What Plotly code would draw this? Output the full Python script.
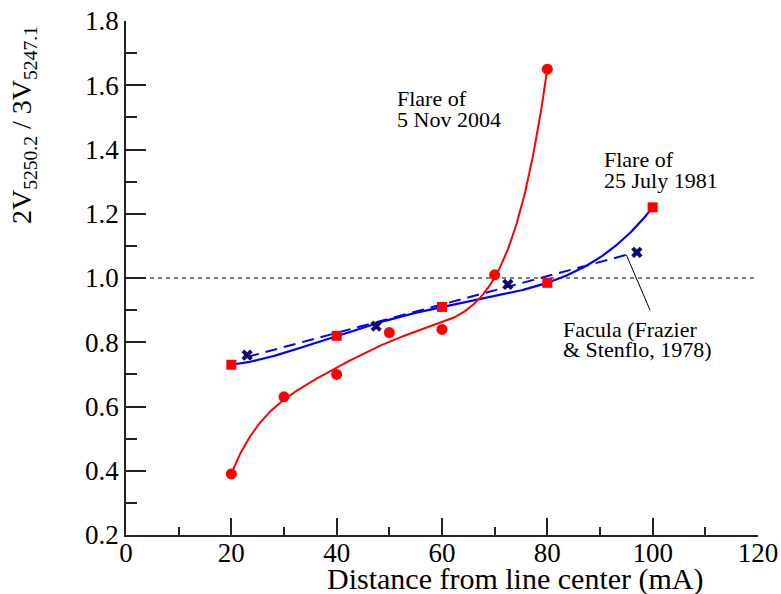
import numpy as np
import plotly.graph_objects as go

# Stokes-V amplitude ratio vs. distance from line center
dist_2004 = [20, 30, 40, 50, 60, 70, 80]
ratio_2004 = [0.39, 0.63, 0.70, 0.83, 0.84, 1.01, 1.65]

dist_1981 = [20, 40, 60, 80, 100]
ratio_1981 = [0.73, 0.82, 0.91, 0.985, 1.22]

dist_facula = [23, 47.5, 72.5, 97]
ratio_facula = [0.76, 0.85, 0.98, 1.08]

x_ticks = [0, 20, 40, 60, 80, 100, 120]
y_ticks = [0.2, 0.4, 0.6, 0.8, 1.0, 1.2, 1.4, 1.6, 1.8]

FONT = "Liberation Serif"
RED = "#ff0000"
BLUE = "#0000ff"
NAVY = "#0b0b70"
AXIS = "#222222"

# Smooth fitted curves
c2004 = np.polyfit(dist_2004, ratio_2004, 5)
xs2004 = np.linspace(min(dist_2004), max(dist_2004), 300)
c1981 = np.polyfit(dist_1981, ratio_1981, 4)
xs1981 = np.linspace(min(dist_1981), max(dist_1981), 300)
cfac = np.polyfit(dist_facula, ratio_facula, 1)
fac_end = 95
xsfac = np.linspace(min(dist_facula), fac_end, 50)

fig = go.Figure()

# reference level at unity
fig.add_trace(go.Scatter(x=[x_ticks[0], x_ticks[-1]], y=[1.0, 1.0], mode="lines",
                         line=dict(color="black", width=1.2, dash="4px,4px"),
                         hoverinfo="skip"))

fig.add_trace(go.Scatter(x=xsfac, y=np.polyval(cfac, xsfac), mode="lines",
                         line=dict(color=BLUE, width=2, dash="12px,7px")))
fig.add_trace(go.Scatter(x=xs1981, y=np.polyval(c1981, xs1981), mode="lines",
                         line=dict(color=BLUE, width=2.2)))
fig.add_trace(go.Scatter(x=xs2004, y=np.polyval(c2004, xs2004), mode="lines",
                         line=dict(color=RED, width=2)))

fig.add_trace(go.Scatter(x=dist_facula, y=ratio_facula, mode="markers",
                         marker=dict(symbol="x", size=10, color=NAVY)))
fig.add_trace(go.Scatter(x=dist_1981, y=ratio_1981, mode="markers",
                         marker=dict(symbol="square", size=10, color=RED)))
fig.add_trace(go.Scatter(x=dist_2004, y=ratio_2004, mode="markers",
                         marker=dict(symbol="circle", size=11, color=RED)))

# leader line from the facula fit to its label
fig.add_shape(type="line", xref="x", yref="y",
              x0=fac_end, y0=float(np.polyval(cfac, fac_end)), x1=99.5, y1=0.90,
              line=dict(color="black", width=1))

ann_font = dict(family=FONT, size=22, color="black")
labels = [
    ("Flare of", 51.1, 1.559),
    ("5 Nov 2004", 51.1, 1.493),
    ("Flare of", 90.3, 1.369),
    ("25 July 1981", 90.3, 1.305),
    ("Facula (Frazier", 82.5, 0.841),
    ("& Stenflo, 1978)", 82.5, 0.777),
]
for txt, ax_, ay_ in labels:
    fig.add_annotation(x=ax_, y=ay_, xref="x", yref="y", text=txt, showarrow=False,
                       xanchor="left", yanchor="middle", font=ann_font)

# axis titles
fig.add_annotation(x=0.617, y=-0.086, xref="paper", yref="paper",
                   text="Distance from line center (mA)", showarrow=False,
                   xanchor="center", yanchor="middle",
                   font=dict(family=FONT, size=30, color="black"))
fig.add_annotation(x=-0.161, y=0.798, xref="paper", yref="paper",
                   text="2V<sub>5250.2</sub> / 3V<sub>5247.1</sub>", showarrow=False,
                   textangle=-90, xanchor="center", yanchor="middle",
                   font=dict(family=FONT, size=28, color="black"))

axis_common = dict(showline=True, linecolor=AXIS, linewidth=1.5,
                   ticks="inside", tickcolor=AXIS, tickwidth=1.5,
                   showgrid=False, zeroline=False, mirror=False, automargin=False,
                   tickfont=dict(family=FONT, size=27, color="black"))

fig.update_xaxes(range=[0, 120], tickvals=x_ticks, ticklen=17, ticklabelstandoff=-7,
                 minor=dict(ticks="inside", dtick=10, ticklen=8,
                            tickcolor=AXIS, tickwidth=1.5),
                 **axis_common)
fig.update_yaxes(range=[0.2, 1.8], tickvals=y_ticks, tickformat=".1f", ticklen=20,
                 minor=dict(ticks="inside", dtick=0.1, ticklen=11,
                            tickcolor=AXIS, tickwidth=1.5),
                 **axis_common)

fig.update_layout(template="none", width=781, height=594, showlegend=False,
                  margin=dict(l=126, r=23, t=21, b=59, autoexpand=False),
                  paper_bgcolor="white", plot_bgcolor="white",
                  font=dict(family=FONT, color="black"))

fig.write_html("out.html")
